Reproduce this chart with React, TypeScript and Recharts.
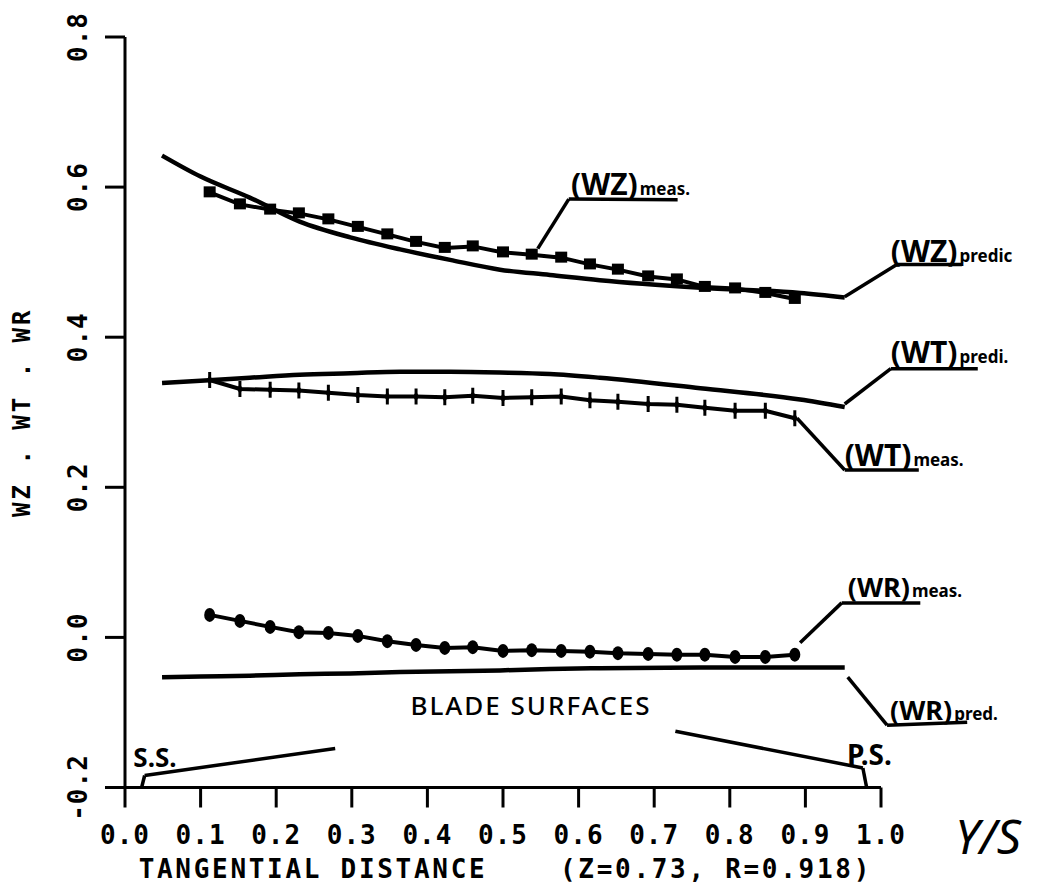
import React from "react";
import { LineChart, Line, XAxis, YAxis, ReferenceLine, ReferenceDot } from "recharts";

/** Axis ticks */
const X_TICKS = [0, 0.1, 0.2, 0.3, 0.4, 0.5, 0.6, 0.7, 0.8, 0.9, 1.0];
const Y_TICKS = [-0.2, 0, 0.2, 0.4, 0.6, 0.8];

/** Measured points (Y/S) */
const xMeas = [
  0.112, 0.152, 0.192, 0.23, 0.269, 0.308, 0.347, 0.385, 0.423, 0.46, 0.5,
  0.538, 0.577, 0.615, 0.652, 0.692, 0.73, 0.767, 0.807, 0.847, 0.886,
];
const wzMeas = [
  0.593, 0.577, 0.57, 0.565, 0.557, 0.547, 0.537, 0.527, 0.519, 0.521, 0.513,
  0.51, 0.506, 0.497, 0.49, 0.481, 0.477, 0.467, 0.465, 0.459, 0.451,
];
const wtMeas = [
  0.343, 0.331, 0.33, 0.329, 0.326, 0.323, 0.321, 0.321, 0.32, 0.322, 0.319,
  0.32, 0.321, 0.316, 0.314, 0.311, 0.31, 0.306, 0.302, 0.302, 0.292,
];
const wrMeas = [
  0.03, 0.022, 0.014, 0.007, 0.006, 0.002, -0.005, -0.01, -0.014, -0.013, -0.018,
  -0.017, -0.018, -0.019, -0.021, -0.022, -0.023, -0.023, -0.026, -0.026, -0.023,
];

/** Predicted curves */
const xPred = [0.049, 0.1, 0.165, 0.231, 0.298, 0.364, 0.43, 0.496, 0.562, 0.628, 0.761, 0.893, 0.952];
const wzPred = [0.642, 0.614, 0.586, 0.554, 0.533, 0.517, 0.503, 0.49, 0.483, 0.476, 0.466, 0.459, 0.453];
const wtPred = [0.339, 0.342, 0.346, 0.35, 0.352, 0.354, 0.354, 0.353, 0.351, 0.346, 0.332, 0.317, 0.307];
const wrPred = [-0.053, -0.052, -0.051, -0.049, -0.048, -0.046, -0.045, -0.044, -0.042, -0.041, -0.04, -0.04, -0.04];

/** Hand-drawn leader lines, in data units (Y/S, value) */
type Pt = [number, number];
const LEADERS: Pt[][] = [
  [[0.546, 0.518], [0.587, 0.584], [0.731, 0.583]], // (WZ)meas
  [[0.952, 0.454], [1.021, 0.497], [1.107, 0.497]], // (WZ)predic
  [[0.952, 0.311], [1.013, 0.358], [1.128, 0.358]], // (WT)predi
  [[0.889, 0.292], [0.952, 0.223], [1.05, 0.223]], // (WT)meas
  [[0.893, -0.007], [0.948, 0.046], [1.052, 0.046]], // (WR)meas
  [[0.956, -0.053], [1.008, -0.117], [1.114, -0.113]], // (WR)pred
  [[0.022, -0.2], [0.026, -0.184], [0.278, -0.148]], // S.S.
  [[0.981, -0.2], [0.976, -0.174], [0.728, -0.125]], // P.S.
];

type Note = { x: number; y: number; main: string; sub?: string; size: number; subSize?: number };
const NOTES: Note[] = [
  { x: 0.59, y: 0.589, main: "(WZ)", sub: "meas.", size: 30, subSize: 17 },
  { x: 1.013, y: 0.5, main: "(WZ)", sub: "predic", size: 30, subSize: 17 },
  { x: 1.013, y: 0.365, main: "(WT)", sub: "predi.", size: 30, subSize: 17 },
  { x: 0.952, y: 0.228, main: "(WT)", sub: "meas.", size: 30, subSize: 17 },
  { x: 0.956, y: 0.054, main: "(WR)", sub: "meas.", size: 27, subSize: 17 },
  { x: 1.012, y: -0.11, main: "(WR)", sub: "pred.", size: 27, subSize: 17 },
  { x: 0.011, y: -0.173, main: "S.S.", size: 26 },
  { x: 0.955, y: -0.17, main: "P.S.", size: 28 },
];
const BLADE = { x: 0.537, y: -0.103, text: "BLADE SURFACES" };

const measRows = xMeas.map((x, i) => ({ x, wz: wzMeas[i], wt: wtMeas[i], wr: wrMeas[i] }));
const predRows = xPred.map((x, i) => ({ x, wz: wzPred[i], wt: wtPred[i], wr: wrPred[i] }));

const INK = "#000";
const MONO = "'DejaVu Sans Mono', monospace";
const HAND = "'Noto Sans', 'DejaVu Sans', sans-serif";

const SquareDot = (p: any) => (
  <rect key={`sq${p.index}`} x={p.cx - 6} y={p.cy - 6} width={12} height={11} fill={INK} />
);
const PlusDot = (p: any) => (
  <g key={`pl${p.index}`}>
    <line x1={p.cx} y1={p.cy - 8} x2={p.cx} y2={p.cy + 8} stroke={INK} strokeWidth={3} />
    <polygon points={`${p.cx},${p.cy - 5} ${p.cx + 3},${p.cy} ${p.cx},${p.cy + 5} ${p.cx - 3},${p.cy}`} fill={INK} />
  </g>
);
const OvalDot = (p: any) => (
  <ellipse key={`ov${p.index}`} cx={p.cx} cy={p.cy} rx={5.5} ry={7} fill={INK} />
);

const XTick = ({ x, y, payload }: any) => (
  <text x={x} y={y + 34} textAnchor="middle" fontFamily={MONO} fontWeight="bold" fontSize={26} letterSpacing={1} fill={INK}>
    {Number(payload.value).toFixed(1)}
  </text>
);
const YTick = ({ x, y, payload }: any) => {
  const cx = x - 25;
  return (
    <text
      x={cx}
      y={y}
      dy="0.36em"
      transform={`rotate(-90, ${cx}, ${y})`}
      textAnchor="middle"
      fontFamily={MONO}
      fontWeight="bold"
      fontSize={26}
      letterSpacing={1}
      fill={INK}
    >
      {Number(payload.value).toFixed(1)}
    </text>
  );
};

const XTitle = ({ viewBox }: any) => {
  const { x, y } = viewBox;
  return (
    <g fontFamily={MONO} fontWeight="bold" fontSize={26} fill={INK} letterSpacing={2.7}>
      <text x={x + 188} y={y + 90} textAnchor="middle">TANGENTIAL DISTANCE</text>
      <text x={x + 591} y={y + 90} textAnchor="middle">(Z=0.73, R=0.918)</text>
      <text x={x + 863} y={y + 66} textAnchor="middle" fontFamily={HAND} fontWeight="normal" fontStyle="italic" fontSize={48} letterSpacing={0}>
        Y/S
      </text>
    </g>
  );
};
const YTitle = ({ viewBox }: any) => {
  const cx = viewBox.x + 13;
  const cy = viewBox.y + viewBox.height / 2;
  return (
    <text
      x={cx}
      y={cy}
      dy="0.36em"
      transform={`rotate(-90, ${cx}, ${cy})`}
      textAnchor="middle"
      fontFamily={MONO}
      fontWeight="bold"
      fontSize={24}
      letterSpacing={3}
      fill={INK}
    >
      WZ . WT . WR
    </text>
  );
};

const noteShape = (n: Note) => (p: any) => (
  <text x={p.cx} y={p.cy} fontFamily={HAND} fontWeight="bold" fill={INK}>
    <tspan fontSize={n.size}>{n.main}</tspan>
    {n.sub ? <tspan fontSize={n.subSize} dx={2}>{n.sub}</tspan> : null}
  </text>
);

export default function App() {
  return (
    <div style={{ background: "#fff", width: 1021, height: 875 }}>
      <LineChart
        width={1021}
        height={875}
        margin={{ top: 29, right: 148, left: 0, bottom: 35 }}
      >
        <XAxis
          dataKey="x"
          type="number"
          domain={[0, 1]}
          ticks={X_TICKS}
          allowDataOverflow
          height={60.5}
          axisLine={{ stroke: INK, strokeWidth: 3 }}
          tickLine={{ stroke: INK, strokeWidth: 3 }}
          tickSize={20}
          tickMargin={2}
          tick={<XTick />}
          label={{ content: <XTitle /> } as any}
        />
        <YAxis
          type="number"
          domain={[-0.2, 0.8]}
          ticks={Y_TICKS}
          allowDataOverflow
          width={117}
          axisLine={{ stroke: INK, strokeWidth: 3 }}
          tickLine={{ stroke: INK, strokeWidth: 3 }}
          tickSize={20}
          tickMargin={2}
          tick={<YTick />}
          label={{ content: <YTitle /> } as any}
        />

        {LEADERS.flatMap((pts, li) =>
          pts.slice(1).map((p, k) => (
            <ReferenceLine
              key={`ld${li}-${k}`}
              segment={[{ x: pts[k][0], y: pts[k][1] }, { x: p[0], y: p[1] }]}
              stroke={INK}
              strokeWidth={3.5}
              ifOverflow="visible"
            />
          ))
        )}

        <Line data={predRows} dataKey="wz" type="monotone" stroke={INK} strokeWidth={4.5} dot={false} isAnimationActive={false} />
        <Line data={predRows} dataKey="wt" type="monotone" stroke={INK} strokeWidth={4.5} dot={false} isAnimationActive={false} />
        <Line data={predRows} dataKey="wr" type="monotone" stroke={INK} strokeWidth={4.5} dot={false} isAnimationActive={false} />

        <Line data={measRows} dataKey="wz" type="linear" stroke={INK} strokeWidth={4} dot={SquareDot} isAnimationActive={false} />
        <Line data={measRows} dataKey="wt" type="linear" stroke={INK} strokeWidth={4} dot={PlusDot} isAnimationActive={false} />
        <Line data={measRows} dataKey="wr" type="linear" stroke={INK} strokeWidth={4} dot={OvalDot} isAnimationActive={false} />

        {NOTES.map((n, i) => (
          <ReferenceDot key={`nt${i}`} x={n.x} y={n.y} r={0} ifOverflow="visible" shape={noteShape(n)} />
        ))}
        <ReferenceDot
          x={BLADE.x}
          y={BLADE.y}
          r={0}
          ifOverflow="visible"
          shape={(p: any) => (
            <text x={p.cx} y={p.cy} textAnchor="middle" fontFamily={HAND} fontWeight={500} fontSize={26} letterSpacing={2} fill={INK}>
              {BLADE.text}
            </text>
          )}
        />
      </LineChart>
    </div>
  );
}
